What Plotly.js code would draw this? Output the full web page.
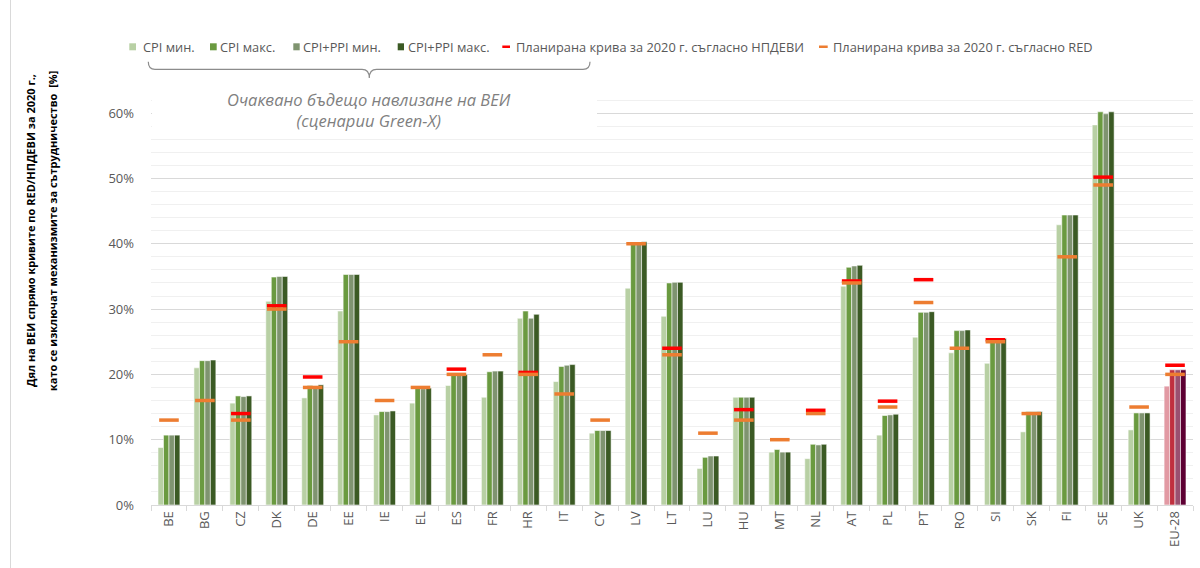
<!DOCTYPE html>
<html>
<head>
<meta charset="utf-8">
<script src="https://cdn.plot.ly/plotly-3.0.1.min.js"></script>
<style>
html,body{margin:0;padding:0;background:#fff;}
#chart{width:1200px;height:568px;}
</style>
</head>
<body>
<div id="chart"></div>
<script>
// ---- data ----
const categories = ['BE','BG','CZ','DK','DE','EE','IE','EL','ES','FR','HR','IT','CY','LV','LT','LU','HU','MT','NL','AT','PL','PT','RO','SI','SK','FI','SE','UK','EU-28'];
const cpiMin = [8.8,21.0,15.6,31.2,16.4,29.7,13.8,15.6,18.3,16.5,28.6,18.9,11.0,33.2,28.9,5.6,16.5,8.1,7.1,33.5,10.7,25.7,23.3,21.7,11.2,42.9,58.2,11.5,18.2];
const cpiMax = [10.7,22.1,16.7,34.9,18.3,35.3,14.3,17.9,20.0,20.4,29.7,21.2,11.4,40.2,34.0,7.3,16.5,8.5,9.3,36.4,13.7,29.5,26.7,25.0,14.3,44.4,60.2,14.1,20.7];
const cpiPpiMin = [10.7,22.1,16.6,35.0,18.2,35.3,14.3,17.8,20.0,20.5,28.6,21.4,11.4,40.2,34.1,7.5,16.5,8.1,9.2,36.6,13.8,29.5,26.7,25.0,14.3,44.4,59.9,14.1,20.7];
const cpiPpiMax = [10.7,22.2,16.7,35.0,18.4,35.3,14.4,17.9,20.0,20.5,29.2,21.5,11.4,40.3,34.1,7.5,16.5,8.1,9.3,36.7,13.9,29.6,26.8,25.5,14.3,44.4,60.2,14.1,20.7];
const planNpdevi = [null,null,14.0,30.5,19.6,null,null,null,20.8,null,20.3,null,null,null,24.0,null,14.6,null,14.5,34.3,15.9,34.5,null,25.3,null,null,50.2,null,21.4];
const planRed = [13,16,13,30,18,25,16,18,20,23,20,17,13,40,23,11,13,10,14,34,15,31,24,25,14,38,49,15,20];
const seriesNames = ['CPI мин.','CPI макс.','CPI+PPI мин.','CPI+PPI макс.','Планирана крива за 2020 г. съгласно НПДЕВИ','Планирана крива за 2020 г. съгласно RED'];
const yTitle1 = 'Дял на ВЕИ спрямо кривите по RED/НПДЕВИ за 2020 г.,';
const yTitle2 = 'като се изключат механизмите за сътрудничество  [%]';
const noteText = 'Очаквано бъдещо навлизане на ВЕИ<br>(сценарии Green-X)';

// ---- styles ----
const greens = ['#b8d0a4','#6a9a40','#7f9470','#3b5a24'];
const eu = ['#e29aa4','#c0303f','#9a5070','#5e0033'];
const seriesData = [cpiMin, cpiMax, cpiPpiMin, cpiPpiMax];

const L = 151, R = 7, T = 87, B = 63, W = 1200 - L - R, H = 568 - T - B;
const px = v => (v - L) / W;
const py = v => (568 - B - v) / H;

const traces = seriesData.map((vals, i) => ({
  type: 'bar', x: categories, y: vals, name: seriesNames[i], showlegend: false,
  marker: { color: categories.map(c => c === 'EU-28' ? eu[i] : greens[i]), line: { color: 'rgba(255,255,255,0.8)', width: 0.7 } },
  hoverinfo: 'x+y'
}));
traces.push({
  type: 'scatter', mode: 'markers', x: categories, y: planNpdevi, name: seriesNames[4], showlegend: false,
  marker: { symbol: 'line-ew', size: 14, line: { color: '#ff0000', width: 3.5 } }
});
traces.push({
  type: 'scatter', mode: 'markers', x: categories, y: planRed, name: seriesNames[5], showlegend: false,
  marker: { symbol: 'line-ew', size: 14, line: { color: '#ed7d31', width: 3.5 } }
});

// custom legend
const legendItems = [
  { sw: [129.3, 136], tx: 140.5, kind: 'sq', color: greens[0] },
  { sw: [210, 216.7], tx: 218, kind: 'sq', color: greens[1] },
  { sw: [293.3, 299.7], tx: 301, kind: 'sq', color: greens[2] },
  { sw: [397.7, 404], tx: 405.5, kind: 'sq', color: greens[3] },
  { sw: [502.3, 510], tx: 514, kind: 'ln', color: '#ff0000' },
  { sw: [819, 827.7], tx: 831, kind: 'ln', color: '#ed7d31' }
];
const shapes = [];
const annotations = [];
legendItems.forEach((it, i) => {
  if (it.kind === 'sq') {
    shapes.push({ type: 'rect', xref: 'paper', yref: 'paper', x0: px(it.sw[0]), x1: px(it.sw[1]), y0: py(50.3), y1: py(43.3), fillcolor: it.color, line: { width: 0 } });
  } else {
    shapes.push({ type: 'rect', xref: 'paper', yref: 'paper', x0: px(it.sw[0]), x1: px(it.sw[1]), y0: py(48), y1: py(45.5), fillcolor: it.color, line: { width: 0 } });
  }
  annotations.push({ xref: 'paper', yref: 'paper', x: px(it.tx), y: py(46.7), xanchor: 'left', yanchor: 'middle', showarrow: false, text: seriesNames[i], font: { family: 'Open Sans', size: 12.8, color: '#595959' } });
});

// white box behind note
shapes.push({ type: 'rect', xref: 'paper', yref: 'paper', x0: 0.001, x1: px(597), y0: py(134), y1: py(85), fillcolor: '#ffffff', line: { width: 0 }, layer: 'above' });

// brace
const pt = (x, y) => px(x).toFixed(5) + ',' + py(y).toFixed(5);
const bracePath = 'M' + pt(148.3, 61.7) + ' Q' + pt(148.3, 69.3) + ' ' + pt(155, 69.3) +
  ' L' + pt(362, 69.3) + ' Q' + pt(369.3, 69.3) + ' ' + pt(369.3, 78) +
  ' Q' + pt(369.3, 69.3) + ' ' + pt(376.6, 69.3) + ' L' + pt(583, 69.3) +
  ' Q' + pt(590, 69.3) + ' ' + pt(590, 61.7);
shapes.push({ type: 'path', xref: 'paper', yref: 'paper', path: bracePath, line: { color: '#8c8c8c', width: 1.2 } });

// left chart border
shapes.push({ type: 'line', xref: 'paper', yref: 'paper', x0: px(10.5), x1: px(10.5), y0: py(568), y1: py(0), line: { color: '#d9d9d9', width: 1 } });

annotations.push({ xref: 'paper', yref: 'paper', x: px(369), y: py(110), xanchor: 'center', yanchor: 'middle', showarrow: false, text: '<i>' + noteText + '</i>', font: { family: 'Open Sans', size: 16.5, color: '#7f7f7f' } });

annotations.push({ xref: 'paper', yref: 'paper', x: px(30), y: py(231), xanchor: 'center', yanchor: 'middle', textangle: -90, showarrow: false, text: '<b>' + yTitle1 + '</b>', font: { family: 'Open Sans', size: 11, color: '#000000' } });
annotations.push({ xref: 'paper', yref: 'paper', x: px(52), y: py(231), xanchor: 'center', yanchor: 'middle', textangle: -90, showarrow: false, text: '<b>' + yTitle2 + '</b>', font: { family: 'Open Sans', size: 11, color: '#000000' } });

const layout = {
  width: 1200, height: 568,
  margin: { l: L, r: R, t: T, b: B },
  paper_bgcolor: '#ffffff', plot_bgcolor: '#ffffff',
  font: { family: 'Open Sans', size: 12, color: '#595959' },
  barmode: 'group', bargap: 0.39, bargroupgap: 0,
  showlegend: false,
  xaxis: {
    type: 'category', range: [-0.5, categories.length - 0.5], autorange: false,
    tickangle: -90, showgrid: false,
    showline: true, linecolor: '#d9d9d9', linewidth: 1,
    ticks: 'outside', tickson: 'boundaries', ticklen: 5, tickcolor: '#d9d9d9',
    tickfont: { family: 'Open Sans', size: 13, color: '#595959' }
  },
  yaxis: {
    range: [0, 64], autorange: false, dtick: 10, tick0: 0, ticksuffix: '%',
    showgrid: true, gridcolor: '#d9d9d9', gridwidth: 1,
    zeroline: false, showline: false,
    ticklabelstandoff: 16,
    tickfont: { family: 'Open Sans', size: 13, color: '#595959' },
    minor: { dtick: 2, tick0: 0, showgrid: true, gridcolor: '#f0f0f0', gridwidth: 1 }
  },
  shapes: shapes,
  annotations: annotations
};

Plotly.newPlot('chart', traces, layout, { displayModeBar: false, staticPlot: true });
</script>
</body>
</html>
